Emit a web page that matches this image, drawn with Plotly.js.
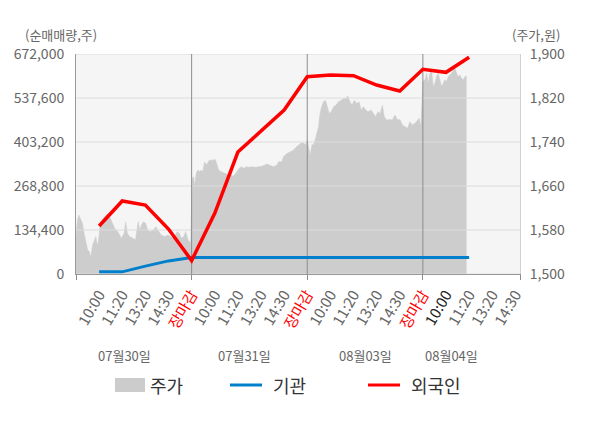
<!DOCTYPE html>
<html>
<head>
<meta charset="utf-8">
<script src="https://cdn.plot.ly/plotly-3.0.1.min.js"></script>
<style>
  html, body { margin: 0; padding: 0; background: #ffffff; }
  #chart { width: 600px; height: 428px; }
</style>
</head>
<body>
<div id="chart"></div>
<script>
// ---------- data ----------
const slotTicks = [1,2,3,4,5,6,7,8,9,10,11,12,13,14,15,16,17,18,19];
const slotLabels = ['10:00','11:20','13:20','14:30','장마감',
                    '10:00','11:20','13:20','14:30','장마감',
                    '10:00','11:20','13:20','14:30','장마감',
                    '10:00','11:20','13:20','14:30'];
const dayDividers = [5, 10, 15];
const dayLabels = ['07월30일', '07월31일', '08월03일', '08월04일'];
const dayLabelPos = [2.1, 7.3, 12.5, 16.25];

const flowTicks = [0, 134400, 268800, 403200, 537600, 672000];
const priceTicks = [1500, 1580, 1660, 1740, 1820, 1900];

// net buying at each slot (1..17)
const flowSlots = [1,2,3,4,5,6,7,8,9,10,11,12,13,14,15,16,17];
const foreignNet = [146600, 223000, 210700, 137400, 41000, 185400, 372500, 436000, 500900,
                    602700, 607800, 605700, 577300, 559000, 625200, 616000, 661900];
const instNet = [6500, 6500, 24000, 40000, 50400, 50400, 50400, 50400, 50400,
                 50400, 50400, 50400, 50400, 50400, 50400, 50400, 50400];

// intraday price (slot position, price)
const priceX = [
  0,0.06,0.13,0.20,0.28,0.35,0.42,0.50,0.57,0.64,0.72,0.79,0.86,0.91,0.97,1.05,1.16,1.30,1.37,1.49,
  1.59,1.67,1.81,1.96,2.08,2.15,2.22,2.32,2.47,2.57,2.69,2.76,2.86,2.94,3.01,3.10,3.20,3.35,3.45,3.57,
  3.68,3.83,3.98,4.08,4.23,4.37,4.47,4.56,4.66,4.74,4.85,4.96,
  5.03,5.09,5.13,5.20,5.27,5.34,5.41,5.48,5.56,5.63,5.70,5.77,5.91,6.03,6.08,6.17,6.27,6.41,6.51,6.62,
  6.70,6.77,6.91,7.05,7.17,7.26,7.36,7.48,7.62,7.76,7.91,8.05,8.26,8.40,8.55,8.69,8.76,8.90,8.97,9.12,
  9.26,9.40,9.50,9.62,9.73,9.83,9.93,
  10.00,10.06,10.13,10.20,10.27,10.34,10.42,10.49,10.53,10.60,10.70,10.78,10.85,10.95,11.03,11.14,11.24,
  11.35,11.47,11.57,11.67,11.75,11.82,11.93,12.04,12.14,12.24,12.33,12.43,12.53,12.64,12.76,12.86,12.96,
  13.05,13.15,13.25,13.33,13.43,13.58,13.68,13.79,13.91,14.01,14.11,14.22,14.34,14.44,14.54,14.66,14.77,
  14.84,14.91,
  15.00,15.09,15.16,15.23,15.30,15.38,15.45,15.52,15.59,15.66,15.74,15.81,15.88,15.95,16.02,16.10,16.17,
  16.24,16.31,16.39,16.46,16.53,16.60,16.67,16.75,16.82,16.89
];
const priceY = [
  1568,1598,1607,1601,1592,1574,1559,1544,1541,1531,1553,1562,1568,1553,1559,1592,1601,1607,1610,1601,
  1592,1583,1577,1565,1574,1595,1574,1568,1565,1562,1595,1580,1592,1595,1592,1580,1577,1580,1586,1577,
  1571,1568,1571,1568,1565,1577,1574,1565,1568,1577,1562,1556,
  1674,1677,1659,1683,1689,1686,1689,1686,1704,1698,1704,1707,1707,1708,1701,1689,1686,1684,1683,1680,
  1683,1677,1683,1692,1695,1692,1695,1694,1695,1694,1695,1696,1700,1698,1695,1698,1704,1704,1713,1719,
  1722,1725,1730,1735,1738,1738,1735,
  1744,1731,1716,1735,1735,1744,1756,1768,1786,1801,1813,1816,1807,1792,1795,1804,1807,
  1813,1816,1819,1819,1824,1816,1807,1816,1810,1813,1798,1804,1798,1795,1798,1792,1786,
  1795,1792,1807,1786,1780,1781,1780,1789,1780,1781,1771,1768,1765,1777,1771,1774,1780,
  1783,1768,
  1850,1853,1865,1847,1865,1868,1841,1847,1859,1865,1850,1841,1847,1853,1850,1859,1862,
  1865,1871,1874,1865,1859,1862,1856,1853,1859,1860
];

// ---------- build ----------
const xMax = 19.2;
const FONT = '"Noto Sans CJK KR", "Noto Sans", sans-serif';

const tickText = slotLabels.map((t, i) => {
  if (t === '장마감') return '<span style="color:#ff0000">' + t + '</span>';
  if (i === 15) return '<span style="color:#222222">' + t + '</span>';
  return t;
});

// horizontal grid drawn above the price area, below the flow lines
const gx = [], gy = [];
flowTicks.forEach(t => { gx.push(0, xMax, null); gy.push(t, t, null); });
const vx = [], vy = [];
dayDividers.forEach(d => { vx.push(d, d, null); vy.push(0, flowTicks[flowTicks.length - 1], null); });

const traces = [
  { x: priceX, y: priceY, type: 'scatter', mode: 'lines', fill: 'tozeroy',
    fillcolor: '#cdcdcd', line: { color: '#cdcdcd', width: 0.5 },
    xaxis: 'x', yaxis: 'y', hoverinfo: 'skip', showlegend: false },
  { x: gx, y: gy, type: 'scatter', mode: 'lines', line: { color: '#dcdcdc', width: 1 },
    xaxis: 'x', yaxis: 'y2', hoverinfo: 'skip', showlegend: false },
  { x: vx, y: vy, type: 'scatter', mode: 'lines', line: { color: '#8c8c8c', width: 1 },
    xaxis: 'x', yaxis: 'y2', hoverinfo: 'skip', showlegend: false },
  { x: flowSlots, y: instNet, type: 'scatter', mode: 'lines', name: '기관',
    line: { color: '#0080cc', width: 3 }, xaxis: 'x', yaxis: 'y2', showlegend: false },
  { x: flowSlots, y: foreignNet, type: 'scatter', mode: 'lines', name: '외국인',
    line: { color: '#ff0000', width: 3.5 }, xaxis: 'x', yaxis: 'y2', showlegend: false }
];

const pyFromPix = p => (274 - p) / 220;
const pxFromPix = p => (p - 76) / 444;

const annotations = [
  { text: '(순매매량,주)', xref: 'paper', yref: 'paper', x: pxFromPix(61), y: pyFromPix(34),
    xanchor: 'center', yanchor: 'middle',
    showarrow: false, font: { size: 13, color: '#666666', family: FONT } },
  { text: '(주가,원)', xref: 'paper', yref: 'paper', x: pxFromPix(536), y: pyFromPix(34),
    xanchor: 'center', yanchor: 'middle',
    showarrow: false, font: { size: 13, color: '#666666', family: FONT } }
];
dayLabels.forEach((d, i) => annotations.push({
  text: d, xref: 'x', yref: 'paper', x: dayLabelPos[i], y: pyFromPix(355),
  xanchor: 'center', yanchor: 'middle',
  showarrow: false, font: { size: 13, color: '#666666', family: FONT }
}));
// legend
const legendItems = [
  { label: '주가', kind: 'box', color: '#cccccc', x0: 115, x1: 145, tx: 148 },
  { label: '기관', kind: 'line', color: '#0080cc', x0: 230, x1: 262, tx: 271 },
  { label: '외국인', kind: 'line', color: '#ff0000', x0: 368, x1: 400, tx: 409 }
];
const shapes = [];
legendItems.forEach(it => {
  if (it.kind === 'box') {
    shapes.push({ type: 'rect', xref: 'paper', yref: 'paper',
      x0: pxFromPix(it.x0), x1: pxFromPix(it.x1), y0: pyFromPix(392), y1: pyFromPix(378),
      fillcolor: it.color, line: { width: 0 } });
  } else {
    shapes.push({ type: 'line', xref: 'paper', yref: 'paper',
      x0: pxFromPix(it.x0), x1: pxFromPix(it.x1), y0: pyFromPix(385), y1: pyFromPix(385),
      line: { color: it.color, width: 3 } });
  }
  annotations.push({ text: it.label, xref: 'paper', yref: 'paper', x: pxFromPix(it.tx),
    y: pyFromPix(385), xanchor: 'left', yanchor: 'middle', showarrow: false,
    font: { size: 18, color: '#333333', family: FONT } });
});

const layout = {
  width: 600, height: 428,
  margin: { l: 76, r: 80, t: 54, b: 154, pad: 0 },
  paper_bgcolor: '#ffffff', plot_bgcolor: '#f5f5f5',
  font: { family: FONT, color: '#666666' },
  showlegend: false,
  xaxis: {
    range: [0, xMax], tickvals: slotTicks, ticktext: tickText, tickangle: -60,
    tickfont: { size: 15, color: '#666666' }, showgrid: false, zeroline: false,
    ticks: '', ticklabelstandoff: 5, showline: true, linecolor: '#999999', linewidth: 1,
    minor: { tickvals: [0, 5, 10, 15, xMax], ticks: 'outside', ticklen: 5,
             tickcolor: '#8c8c8c', tickwidth: 1, showgrid: false },
    fixedrange: true
  },
  yaxis: {
    range: [1500, 1900], side: 'right', tickvals: priceTicks,
    ticktext: priceTicks.map(v => v.toLocaleString('en-US')),
    tickfont: { size: 14, color: '#666666' }, showgrid: false, zeroline: false,
    showline: true, linecolor: '#d0d0d0', ticks: '', ticklabelstandoff: 6, fixedrange: true
  },
  yaxis2: {
    range: [0, 672000], overlaying: 'y', side: 'left', tickvals: flowTicks,
    ticktext: flowTicks.map(v => v.toLocaleString('en-US')),
    tickfont: { size: 14, color: '#666666' }, showgrid: false, zeroline: false,
    showline: true, linecolor: '#999999', ticks: '', ticklabelstandoff: 8, fixedrange: true
  },
  annotations: annotations,
  shapes: shapes
};

Plotly.newPlot('chart', traces, layout, { displayModeBar: false, staticPlot: true });
</script>
</body>
</html>
